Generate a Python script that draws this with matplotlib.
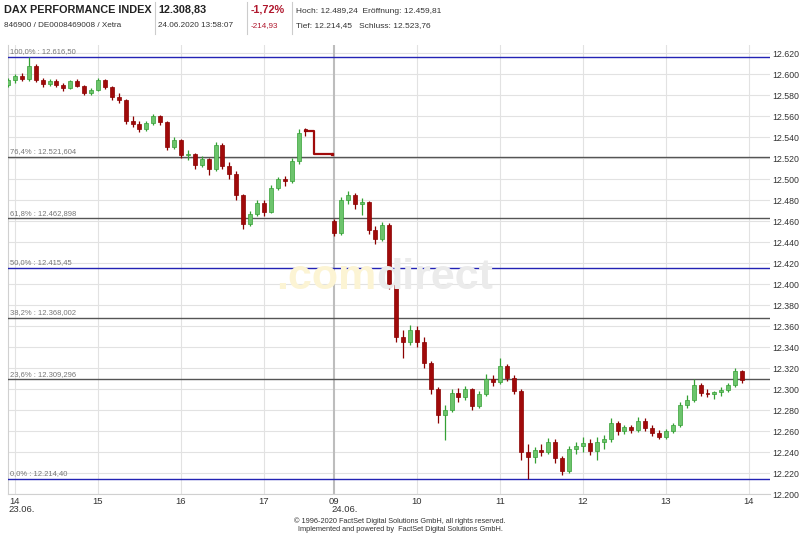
import numpy as np
import pandas as pd
import matplotlib.pyplot as plt

plt.rcParams['font.family'] = ['Liberation Sans', 'DejaVu Sans']

# 5-minute candles, 23.06.2020 afternoon
day1_open = [12590, 12595, 12598, 12596, 12608, 12595, 12591, 12594, 12590, 12587, 12594, 12589, 12582, 12585, 12595, 12588, 12578, 12576, 12556, 12553, 12548, 12554, 12560, 12555, 12531, 12537, 12523, 12524, 12514, 12519, 12510, 12533, 12513, 12505, 12485, 12457, 12467, 12477, 12469, 12492, 12500, 12498, 12517, 12548]
day1_high = [12597, 12600, 12601, 12616.5, 12610, 12597, 12596, 12596, 12592, 12595, 12596, 12590, 12587, 12597, 12596, 12589, 12582, 12577, 12560, 12556, 12556, 12562, 12561, 12556, 12540, 12538, 12528, 12525, 12522, 12520, 12536, 12535, 12516, 12508, 12486, 12470, 12480, 12480, 12495, 12502, 12503, 12520, 12548, 12549]
day1_low = [12588, 12592, 12594, 12594, 12593, 12588, 12589, 12588, 12584, 12586, 12588, 12580, 12580, 12584, 12586, 12576, 12573, 12553, 12550, 12545, 12546, 12552, 12552, 12528, 12529, 12520, 12518, 12510, 12512, 12504, 12508, 12510, 12500, 12480, 12453, 12455, 12465, 12465, 12468, 12490, 12494, 12496, 12515, 12541]
day1_close = [12595, 12598, 12596, 12608, 12595, 12591, 12594, 12590, 12587, 12594, 12589, 12582, 12585, 12595, 12588, 12578, 12576, 12556, 12553, 12548, 12554, 12560, 12555, 12531, 12537, 12523, 12524, 12514, 12519, 12510, 12533, 12513, 12505, 12485, 12457, 12467, 12477, 12469, 12492, 12500, 12498, 12517, 12544, 12546]

# 5-minute candles, 24.06.2020 morning
day2_open = [12459.81, 12449, 12480, 12485, 12476, 12478, 12452, 12443, 12456, 12400, 12350, 12345, 12356, 12345, 12325, 12300, 12275, 12280, 12296, 12292, 12300, 12284, 12295, 12310, 12307, 12322, 12311, 12298, 12240, 12235, 12242, 12240, 12250, 12234, 12222, 12243, 12246, 12249, 12241, 12250, 12252, 12268, 12260, 12264, 12261, 12270, 12263, 12258, 12254, 12260, 12266, 12285, 12290, 12304, 12296, 12295, 12297, 12299, 12304, 12317]
day2_high = [12462, 12483, 12489.24, 12487, 12482, 12479, 12455, 12459, 12458, 12402, 12356, 12361, 12360, 12350, 12327, 12302, 12285, 12300, 12301, 12303, 12301, 12298, 12314, 12313, 12330, 12324, 12313, 12300, 12248, 12245, 12248, 12253, 12252, 12236, 12246, 12250, 12254, 12252, 12254, 12256, 12272, 12270, 12266, 12266, 12273, 12272, 12266, 12261, 12262, 12268, 12288, 12294, 12310, 12306, 12300, 12298, 12302, 12306, 12320, 12318]
day2_low = [12446, 12447, 12476, 12472, 12466, 12448, 12438, 12441, 12395, 12345, 12330, 12342, 12340, 12320, 12295, 12268, 12251, 12278, 12288, 12290, 12280, 12282, 12293, 12303, 12305, 12308, 12295, 12232, 12214.45, 12230, 12236, 12238, 12230, 12218, 12220, 12238, 12240, 12237, 12232, 12243, 12250, 12256, 12257, 12258, 12259, 12260, 12255, 12252, 12252, 12258, 12264, 12282, 12288, 12293, 12292, 12291, 12293, 12297, 12302, 12306]
day2_close = [12449, 12480, 12485, 12476, 12478, 12452, 12443, 12456, 12400, 12350, 12345, 12356, 12345, 12325, 12300, 12275, 12280, 12296, 12292, 12300, 12284, 12295, 12310, 12307, 12322, 12311, 12298, 12240, 12235, 12242, 12240, 12250, 12234, 12222, 12243, 12246, 12249, 12241, 12250, 12252, 12268, 12260, 12264, 12261, 12270, 12263, 12258, 12254, 12260, 12266, 12285, 12290, 12304, 12296, 12295, 12297, 12299, 12304, 12317, 12308.83]

# closing auction after 17:30 on 23.06.
post_hours = [17.5, 17.6, 17.8]
post_vals = [12546, 12523.76, 12523.76]

fib_pct = ['100,0%', '76,4%', '61,8%', '50,0%', '38,2%', '23,6%', '0,0%']
fib_vals = [12616.50, 12521.604, 12462.898, 12415.45, 12368.002, 12309.296, 12214.40]
fib_text = ['12.616,50', '12.521,604', '12.462,898', '12.415,45', '12.368,002', '12.309,296', '12.214,40']

day1_hours = [14, 15, 16, 17]
day2_hours = [9, 10, 11, 12, 13, 14]

GAP = 3.843  # position of 09:00 on 24.06.

def pos1(h):
    return np.asarray(h) - 14

def pos2(h):
    return GAP + np.asarray(h) - 9

def draw_candles(ax, x, o, h, l, c):
    o = np.array(o); h = np.array(h); l = np.array(l); c = np.array(c)
    up = c >= o
    for mask, face, edge in [(up, '#6cc46c', '#34a034'), (~up, '#a00a0a', '#8a0000')]:
        ax.vlines(x[mask], l[mask], h[mask], color=edge, lw=0.9, zorder=4)
        ax.bar(x[mask], np.maximum(np.abs(c[mask] - o[mask]), 0.8), bottom=np.minimum(o[mask], c[mask]),
               width=0.048, color=face, edgecolor=edge, lw=0.5, zorder=5)

t1 = pd.date_range('2020-06-23 13:55', periods=len(day1_close), freq='5min')
t2 = pd.date_range('2020-06-24 09:00', periods=len(day2_close), freq='5min')
x1 = pos1(t1.hour + t1.minute / 60)
x2 = pos2(t2.hour + t2.minute / 60)

fig = plt.figure(figsize=(8, 5.33), dpi=100)
ax = fig.add_axes([8 / 800, 39 / 533, 762 / 800, 449 / 533])
ax.set_xlim(-0.084, 9.096)
ax.set_ylim(12200, 12628)

# grid
for y in range(12200, 12621, 20):
    ax.axhline(y, color='#e2e2e2', lw=0.8, zorder=1)
for h in day1_hours:
    ax.axvline(pos1(h), color='#e2e2e2', lw=0.8, zorder=1)
for h in day2_hours[1:]:
    ax.axvline(pos2(h), color='#e2e2e2', lw=0.8, zorder=1)
ax.axvline(pos2(9), color='#bdbdbd', lw=1.5, zorder=1)

# watermark
fig.text(376 / 800, 1 - 289 / 533, '.com', fontsize=31, fontweight='bold', color='#fcf4d4',
         ha='right', va='baseline', zorder=0)
fig.text(376 / 800, 1 - 289 / 533, 'direct', fontsize=31, fontweight='bold', color='#ebebeb',
         ha='left', va='baseline', zorder=0)
ax.patch.set_alpha(0)

# fibonacci levels
for p, v, t in zip(fib_pct, fib_vals, fib_text):
    col = '#2323b4' if p in ('100,0%', '50,0%', '0,0%') else '#555555'
    ax.axhline(v, color=col, lw=1, zorder=3)
    ax.text(0.002, v + 1.5, p + ' : ' + t, transform=ax.get_yaxis_transform(),
            fontsize=5.5, color='#777777', va='bottom', ha='left', zorder=6)

draw_candles(ax, x1, day1_open, day1_high, day1_low, day1_close)
draw_candles(ax, x2, day2_open, day2_high, day2_low, day2_close)
ax.plot(pos1(post_hours), post_vals, drawstyle='steps-post', color='#a00a0a', lw=1.6, zorder=4)
ax.plot(pos2(8.98), post_vals[-1], 's', color='#a00a0a', ms=1.5, zorder=4)

# axes
for s in ['top', 'right']:
    ax.spines[s].set_visible(False)
ax.spines['left'].set_color('#d0d0d0')
ax.spines['bottom'].set_color('#d0d0d0')
ax.yaxis.tick_right()
yt = list(range(12200, 12621, 20))
ax.set_yticks(yt)
ax.set_yticklabels(['{:,}'.format(v).replace(',', '.') for v in yt])
ax.tick_params(axis='y', length=0, pad=2, labelsize=6.3, labelcolor='#333333')
xt = list(pos1(day1_hours)) + list(pos2(day2_hours))
ax.set_xticks(xt)
ax.set_xticklabels(['14', '15', '16', '17', '09', '10', '11', '12', '13', '14'])
ax.tick_params(axis='x', length=0, pad=2, labelsize=6.8, labelcolor='#333333')
ax.text(-0.084, -0.025, '23.06.', transform=ax.get_xaxis_transform(), fontsize=6.8, color='#333333', va='top')
ax.text(pos2(9) - 0.03, -0.025, '24.06.', transform=ax.get_xaxis_transform(), fontsize=6.8, color='#333333', va='top')

# header
fig.text(4 / 800, 1 - 13 / 533, 'DAX PERFORMANCE INDEX', fontsize=7.8, fontweight='bold', color='#222222', va='baseline')
fig.text(4 / 800, 1 - 27 / 533, '846900 / DE0008469008 / Xetra', fontsize=5.9, color='#333333', va='baseline')
fig.text(158 / 800, 1 - 13 / 533, '12.308,83', fontsize=7.8, fontweight='bold', color='#222222', va='baseline')
fig.text(158 / 800, 1 - 27 / 533, '24.06.2020 13:58:07', fontsize=5.9, color='#333333', va='baseline')
fig.text(251 / 800, 1 - 13 / 533, '-1,72%', fontsize=7.8, fontweight='bold', color='#b0182e', va='baseline')
fig.text(251 / 800, 1 - 27 / 533, '-214,93', fontsize=5.9, color='#b0182e', va='baseline')
fig.text(296 / 800, 1 - 13 / 533, 'Hoch: 12.489,24  Eröffnung: 12.459,81', fontsize=6.0, color='#333333', va='baseline')
fig.text(296 / 800, 1 - 27 / 533, 'Tief: 12.214,45   Schluss: 12.523,76', fontsize=6.0, color='#333333', va='baseline')
for xs in [155, 247, 292]:
    fig.add_artist(plt.Line2D([xs / 800, xs / 800], [1 - 34 / 533, 1 - 2 / 533], color='#cccccc', lw=0.8))

# footer
fig.text(0.5, 1 - 523 / 533, '\u00a9 1996-2020 FactSet Digital Solutions GmbH, all rights reserved.', fontsize=5.3,
         color='#333333', ha='center', va='baseline')
fig.text(0.5, 1 - 531 / 533, 'Implemented and powered by  FactSet Digital Solutions GmbH.', fontsize=5.3,
         color='#333333', ha='center', va='baseline')

fig.savefig('out.png', dpi=100)
